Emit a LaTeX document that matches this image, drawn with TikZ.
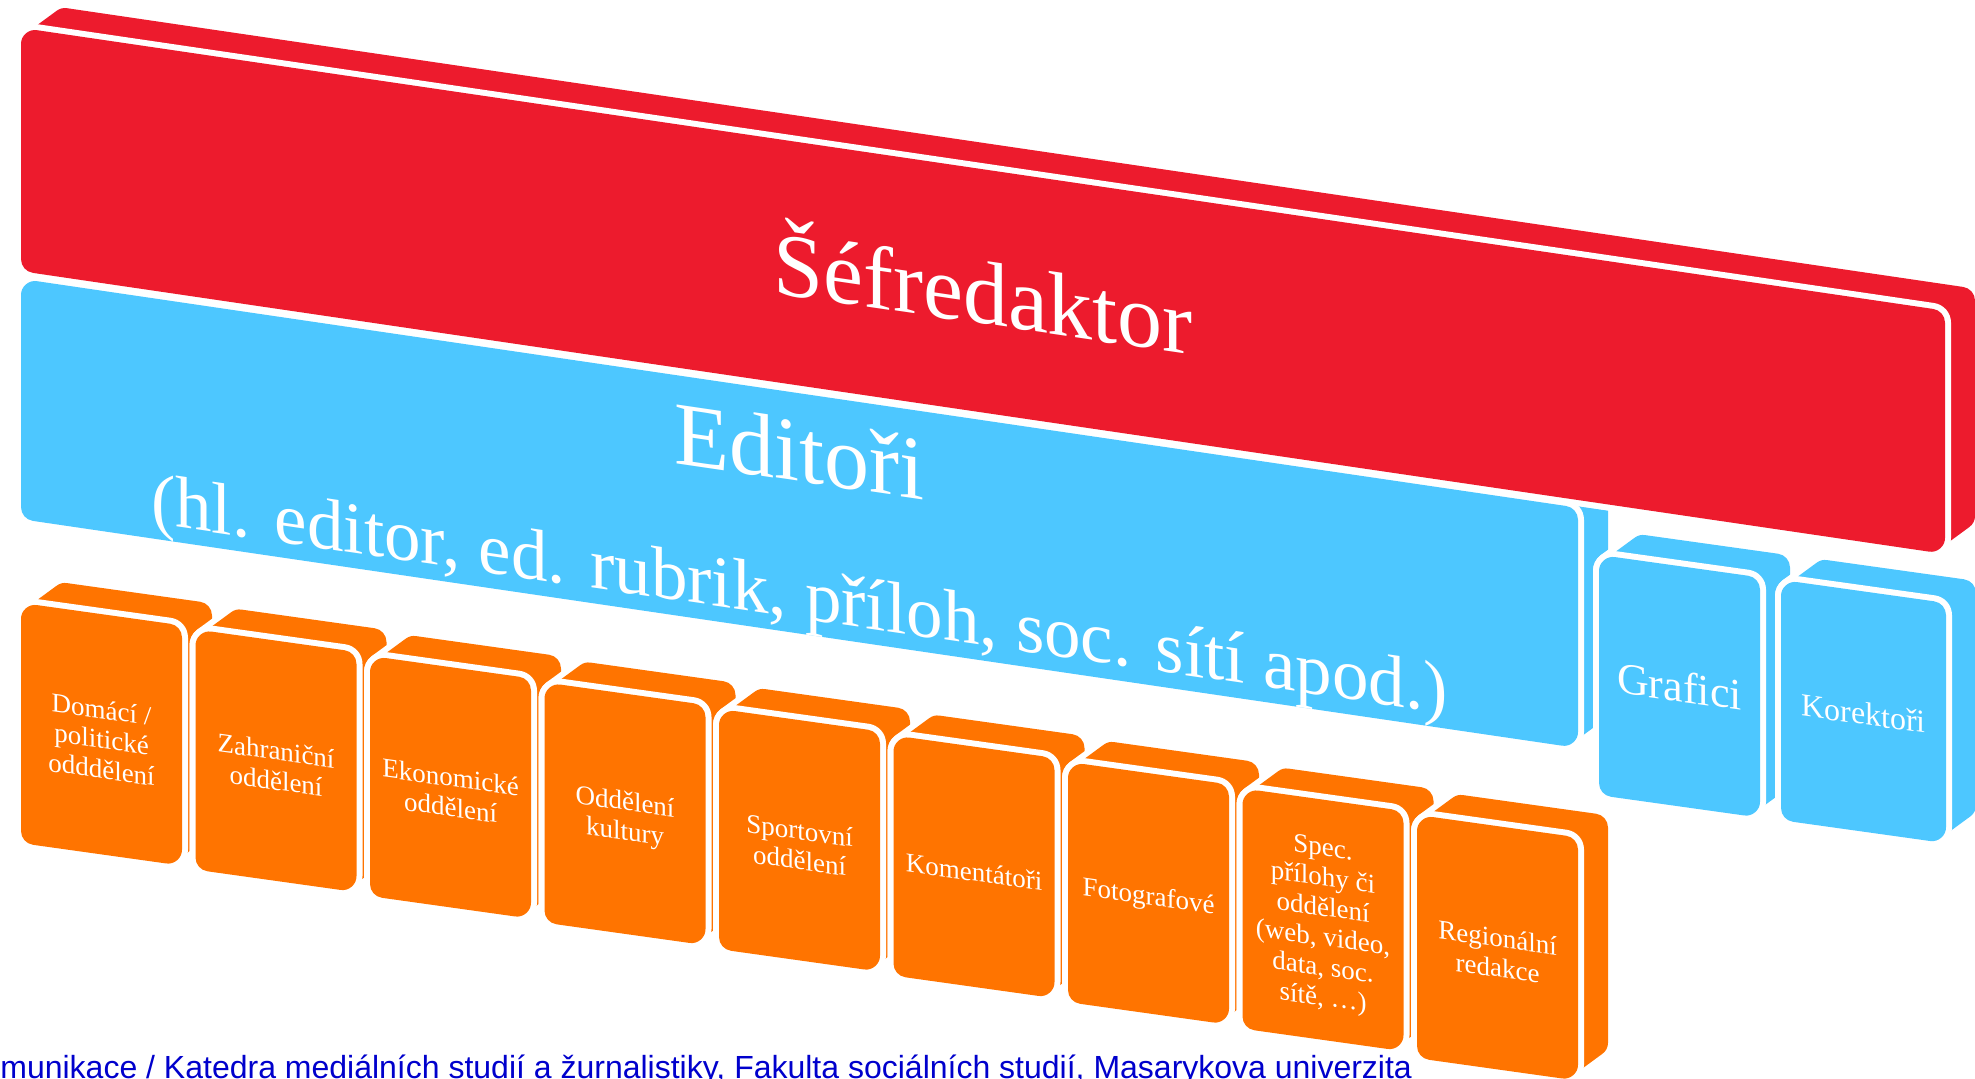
\documentclass[tikz,border=0pt]{standalone}
\usepackage{fontspec}
\setmainfont{Liberation Serif}
\newfontfamily\footfont{Liberation Sans}
\usetikzlibrary{calc}
\definecolor{cred}{RGB}{237,27,45}
\definecolor{cblue}{RGB}{77,199,255}
\definecolor{corange}{RGB}{255,116,0}
\definecolor{cfoot}{RGB}{0,0,204}

\def\RR{14}
\def\WW{6}
\def\DX{30}
\def\DY{-22}

\tikzset{
  outline/.style={line width={(\RR+\WW)*1pt}, line join=round},
  body/.style={line width={\RR*1pt}, line join=round},
  facetxt/.style={text=white, inner sep=0pt, align=center, transform shape},
  smalltxt/.style={facetxt, font=\fontsize{13.5}{15}\selectfont},
}

% \cube{name}{x0}{y0}{w}{h}{slope}{color}
\newcommand\cube[7]{%
  \path ({#2+\RR},{#3+\RR+#6*\RR}) coordinate (#1-a)
        ({#2+#4-\RR},{#3+\RR+#6*(#4-\RR)}) coordinate (#1-b)
        ({#2+#4-\RR},{#3+#5-\RR+#6*(#4-\RR)}) coordinate (#1-c)
        ({#2+\RR},{#3+#5-\RR+#6*\RR}) coordinate (#1-d)
        ({#2+#4/2},{#3+#5/2+#6*#4/2}) coordinate (#1-m);
  \path ($(#1-a)+(\DX,\DY)$) coordinate (#1-e)
        ($(#1-b)+(\DX,\DY)$) coordinate (#1-f)
        ($(#1-c)+(\DX,\DY)$) coordinate (#1-g);
  \filldraw[white, outline] (#1-a)--(#1-e)--(#1-f)--(#1-g)--(#1-c)--(#1-d)--cycle;
  \filldraw[#7, body] (#1-a)--(#1-e)--(#1-f)--(#1-g)--(#1-c)--(#1-d)--cycle;
  \filldraw[white, outline] (#1-a)--(#1-b)--(#1-c)--(#1-d)--cycle;
  \filldraw[#7, body] (#1-a)--(#1-b)--(#1-c)--(#1-d)--cycle;
}

% \facetext{cube}{slope}{name}{offset y}{options}{text}
\newcommand\facetext[6]{%
  \begin{scope}[shift={(#1-m)}, cm={1,-#2,0,1,(0,0)}]
    \node[#5] (#3) at (0,#4) {#6};
  \end{scope}
}

\begin{document}
\begin{tikzpicture}[x=0.5pt,y=-0.5pt]
\useasboundingbox (0,0) rectangle (1975,1079);
\clip (0,0) rectangle (1975,1079);

% Editori
\cube{ed}{21}{279}{1557}{240}{0.147}{cblue}
\facetext{ed}{0.147}{edA}{-32}{facetxt, anchor=base, font=\fontsize{45}{50}\selectfont}{Editoři}
\facetext{ed}{0.147}{edB}{105}{facetxt, anchor=base, font=\fontsize{36.5}{40}\selectfont}{(hl. editor, ed. rubrik, příloh, soc. sítí apod.)}

% Sefredaktor
\cube{sef}{21}{28}{1924}{243}{0.147}{cred}
\facetext{sef}{0.147}{sefT}{33}{facetxt, anchor=base, font=\fontsize{45}{50}\selectfont}{Šéfredaktor}

% Grafici, Korektori
\cube{gr}{1599}{555}{161}{240}{0.14}{cblue}
\facetext{gr}{0.14}{grT}{0}{facetxt, font=\fontsize{22}{25}\selectfont}{Grafici}
\cube{ko}{1781}{580}{165}{240}{0.14}{cblue}
\facetext{ko}{0.14}{koT}{2}{facetxt, font=\fontsize{16}{18}\selectfont}{Korektoři}

% orange departments
\cube{o1}{21}{603}{161}{240}{0.14}{corange}
\facetext{o1}{0.14}{o1T}{5}{smalltxt}{Domácí /\\politické\\odddělení}
\cube{o2}{195.5}{629.5}{161}{240}{0.14}{corange}
\facetext{o2}{0.14}{o2T}{5}{smalltxt}{Zahraniční\\oddělení}
\cube{o3}{370}{656}{161}{240}{0.14}{corange}
\facetext{o3}{0.14}{o3T}{5}{smalltxt}{Ekonomické\\oddělení}
\cube{o4}{544.5}{682.5}{161}{240}{0.14}{corange}
\facetext{o4}{0.14}{o4T}{5}{smalltxt}{Oddělení\\kultury}
\cube{o5}{719}{709}{161}{240}{0.14}{corange}
\facetext{o5}{0.14}{o5T}{5}{smalltxt}{Sportovní\\oddělení}
\cube{o6}{893.5}{735.5}{161}{240}{0.14}{corange}
\facetext{o6}{0.14}{o6T}{5}{smalltxt}{Komentátoři}
\cube{o7}{1068}{762}{161}{240}{0.14}{corange}
\facetext{o7}{0.14}{o7T}{5}{smalltxt}{Fotografové}
\cube{o8}{1242.5}{788.5}{161}{240}{0.14}{corange}
\facetext{o8}{0.14}{o8T}{5}{smalltxt}{Spec.\\přílohy či\\oddělení\\(web, video,\\data, soc.\\sítě, …)}
\cube{o9}{1417}{815}{161}{243}{0.14}{corange}
\facetext{o9}{0.14}{o9T}{5}{smalltxt}{Regionální\\redakce}

% footer
\node[anchor=base west, inner sep=0pt, text=cfoot, font=\footfont\fontsize{16}{18}\selectfont] (foot) at (0,1078) {munikace / Katedra mediálních studií a žurnalistiky, Fakulta sociálních studií, Masarykova univerzita};
\end{tikzpicture}
\end{document}
